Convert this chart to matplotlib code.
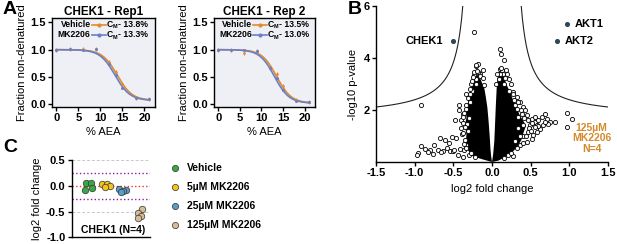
import matplotlib
matplotlib.use("Agg")
import matplotlib.pyplot as plt
import numpy as np

plt.rcParams['font.family'] = ['Liberation Sans', 'DejaVu Sans']
plt.rcParams['font.weight'] = 'bold'
plt.rcParams['font.size'] = 8
plt.rcParams['axes.linewidth'] = 1.0
plt.rcParams['xtick.major.width'] = 1.0
plt.rcParams['ytick.major.width'] = 1.0
plt.rcParams['xtick.major.size'] = 3
plt.rcParams['ytick.major.size'] = 3
plt.rcParams['xtick.major.pad'] = 1.5
plt.rcParams['ytick.major.pad'] = 1.5

# ---- panel A: melt curves ----
aea = [0, 3, 6, 9, 12, 13.5, 15, 18, 21]
rep1_vehicle = [1.0, 1.01, 1.01, 1.01, 0.78, 0.60, 0.38, 0.12, 0.09]
rep1_mk2206 = [1.0, 1.01, 1.0, 1.01, 0.74, 0.53, 0.30, 0.11, 0.09]
rep2_vehicle = [1.0, 1.0, 0.93, 0.98, 0.69, 0.55, 0.33, 0.07, 0.04]
rep2_mk2206 = [1.0, 1.0, 1.0, 0.98, 0.67, 0.49, 0.27, 0.06, 0.04]
# fitted melt parameters (Cm, slope, bottom)
rep1_fit = {'Vehicle': (13.8, 1.7, 0.07), 'MK2206': (13.3, 1.7, 0.07)}
rep2_fit = {'Vehicle': (13.5, 1.7, 0.02), 'MK2206': (13.0, 1.7, 0.02)}

# ---- panel B: volcano ----
hits_x = [-0.51, 0.97, 0.84]
hits_y = [4.65, 5.32, 4.65]
hits_name = ['CHEK1', 'AKT1', 'AKT2']
out_x = [-0.917, -0.96, -0.973, -0.917, -0.861, -0.797, -0.745, -0.702, -0.672, -0.637,
         -0.607, -0.559, -0.543, -0.521, -0.465, -0.50, -0.49, -0.482, -0.422, -0.40,
         -0.43, -0.371, -0.336, -0.443, -0.357, -0.336, -0.388, -0.345, -0.293, -0.207,
         -0.185, -0.236, -0.207, -0.155, -0.12, -0.271, -0.293, -0.258, -0.237, -0.207,
         -0.185, -0.25, -0.207, -0.66, -0.58, -0.76, -0.83, -0.40, -0.37, -0.42,
         -0.38, -0.31, -0.30, -0.29, -0.32, -0.28,
         -0.36, -0.37, -0.35, -0.36, -0.34, -0.31, -0.29, -0.26, -0.23, -0.19,
         -0.16, -0.12, -0.10, -0.27, -0.22, -0.33, -0.38, -0.33,
         0.108, 0.116, 0.159, 0.103, 0.13, 0.18, 0.20, 0.094, 0.159, 0.112,
         0.146, 0.103, 0.275, 0.319, 0.362, 0.405, 0.426, 0.448, 0.513, 0.556,
         0.598, 0.642, 0.685, 0.707, 0.749, 0.814, 0.663, 0.62, 0.578, 0.534,
         0.469, 0.513, 0.448, 0.405, 0.362, 0.211, 0.275, 0.973, 1.03, 0.973,
         0.405, 0.34, 0.319, 0.384, 0.578, 0.60, 0.491, 0.556, 0.72, 0.68,
         0.25, 0.22, 0.28, 0.30, 0.34, 0.36, 0.30,
         0.05, 0.06, 0.17, 0.22, 0.27, 0.33, 0.37, 0.42, 0.46, 0.48,
         0.44, 0.40, 0.32, 0.25, 0.15, 0.52, 0.55, 0.50]
out_y = [2.21, 0.36, 0.28, 0.60, 0.51, 0.48, 0.64, 0.48, 0.92, 0.42,
         0.83, 0.75, 0.42, 0.96, 0.94, 0.42, 0.45, 1.63, 2.18, 1.60,
         1.99, 1.86, 2.05, 0.26, 0.45, 0.64, 1.07, 0.83, 0.26, 3.68,
         3.76, 3.33, 3.21, 3.40, 3.53, 2.99, 2.57, 2.73, 5.0, 3.72,
         3.46, 3.27, 3.01, 0.40, 0.55, 0.30, 0.38, 1.30, 1.50, 0.50,
         0.20, 1.20, 1.70, 2.30, 1.45, 2.60,
         0.70, 1.10, 1.35, 1.90, 2.20, 2.45, 2.80, 3.10, 3.45, 3.50,
         3.30, 3.25, 2.95, 0.35, 0.20, 0.55, 1.75, 2.60,
         4.36, 4.17, 3.91, 3.59, 3.55, 3.53, 3.40, 3.21, 3.01, 3.63,
         3.40, 3.40, 2.69, 2.50, 2.31, 2.12, 1.99, 1.80, 1.67, 1.54,
         1.60, 1.73, 1.86, 1.67, 1.54, 1.54, 1.41, 1.28, 1.15, 1.03,
         1.15, 0.87, 0.77, 0.99, 0.64, 0.26, 0.22, 1.89, 1.67, 1.35,
         1.41, 1.73, 2.05, 1.86, 1.41, 1.38, 1.41, 1.73, 1.45, 1.55,
         3.00, 3.20, 2.40, 2.20, 1.30, 1.00, 0.80,
         3.00, 3.40, 3.25, 2.75, 2.60, 2.30, 2.00, 1.70, 1.60, 1.30,
         1.00, 0.75, 0.55, 0.35, 0.15, 1.50, 1.35, 1.20]
# outline of the dense core of the cloud
core_left_x = [0.0, -0.12, -0.25, -0.31, -0.34, -0.33, -0.35, -0.33, -0.34, -0.31,
               -0.30, -0.27, -0.25, -0.22, -0.18, -0.15, -0.13, -0.10, -0.08, -0.06,
               -0.045, -0.03, -0.02, -0.01]
core_left_y = [0.0, 0.1, 0.22, 0.45, 0.75, 1.05, 1.4, 1.7, 2.0, 2.3,
               2.5, 2.85, 3.05, 3.3, 3.35, 3.2, 3.05, 2.85, 2.5, 2.1,
               1.6, 1.0, 0.5, 0.2]
core_right_x = [0.0, 0.015, 0.03, 0.04, 0.05, 0.06, 0.07, 0.09, 0.12, 0.15,
                0.16, 0.20, 0.24, 0.27, 0.32, 0.35, 0.40, 0.44, 0.41, 0.38,
                0.33, 0.27, 0.18, 0.08]
core_right_y = [0.0, 0.3, 0.8, 1.5, 2.2, 2.8, 3.2, 3.5, 3.55, 3.4,
                3.2, 2.9, 2.65, 2.4, 2.15, 1.85, 1.6, 1.4, 1.15, 0.85,
                0.6, 0.4, 0.2, 0.05]
# threshold curve y = y0 + c / (|x| - x0)
thr_y0, thr_c, thr_x0 = 1.7, 0.515, 0.258

# ---- panel C ----
groups = ['Vehicle', '5µM MK2206', '25µM MK2206', '125µM MK2206']
group_colors = ['#36a845', '#f4c31c', '#5a9cc8', '#d6bd98']
c_vals = [[0.06, 0.06, -0.09, -0.05],
          [0.04, 0.03, 0.0, -0.02],
          [-0.06, -0.08, -0.11, -0.12],
          [-0.46, -0.52, -0.58, -0.63]]
c_jitter = [[-0.15, 0.15, -0.2, 0.2],
            [-0.2, 0.1, 0.25, -0.05],
            [-0.2, 0.2, 0.0, -0.1],
            [0.12, -0.08, 0.1, -0.12]]

W, H = 617, 244
fig = plt.figure(figsize=(W / 100, H / 100), dpi=100)


def px_axes(l, t, r, b):
    return fig.add_axes([l / W, 1 - b / H, (r - l) / W, (b - t) / H])


def melt(x, cm, s, bot):
    return bot + (1 - bot) / (1 + np.exp((x - cm) / s))


orange, blue = '#e38a2b', '#6a7fc6'
for (l, r), title, veh, mk, fit, in [((52, 155), 'CHEK1 - Rep1', rep1_vehicle, rep1_mk2206, rep1_fit),
                                    ((214, 315), 'CHEK1 - Rep 2', rep2_vehicle, rep2_mk2206, rep2_fit)]:
    ax = px_axes(l, 18, r, 107)
    ax.set_facecolor('#eef0f5')
    xs = np.linspace(0, 21, 200)
    ax.plot(xs, melt(xs, *fit['Vehicle']), color=orange, lw=1.2)
    ax.plot(xs, melt(xs, *fit['MK2206']), color=blue, lw=1.2)
    ax.plot(aea, veh, 'd', color=orange, ms=2.5, mew=0)
    ax.plot(aea, mk, 'o', color=blue, ms=2.2, mew=0)
    ax.set_xlim(-1, 22.4)
    ax.set_ylim(-0.05, 1.58)
    ax.set_xticks([0, 5, 10, 15, 20])
    ax.set_yticks([0, 0.5, 1.0, 1.5])
    ax.set_yticklabels(['0.0', '0.5', '1.0', '1.5'])
    ax.set_title(title, fontsize=8.5, fontweight='bold', pad=2)
    ax.set_xlabel('% AEA', labelpad=3)
    ax.set_ylabel('Fraction non-denatured', labelpad=2)
    for row, (lab, col, key) in enumerate([('Vehicle', orange, 'Vehicle'), ('MK2206', blue, 'MK2206')]):
        yy = 0.925 - row * 0.115
        ax.text(0.375, yy, lab, transform=ax.transAxes, ha='right', va='center', fontsize=6.2)
        ax.plot([0.385, 0.52], [yy, yy], color=col, lw=1.2, transform=ax.transAxes)
        ax.plot([0.452], [yy], 'o', color=col, ms=2, transform=ax.transAxes)
        ax.text(0.53, yy, 'C', transform=ax.transAxes, ha='left', va='center', fontsize=6.2)
        ax.text(0.59, yy - 0.025, 'M', transform=ax.transAxes, ha='left', va='center', fontsize=4)
        ax.text(0.645, yy, '- %.1f%%' % fit[key][0], transform=ax.transAxes,
                ha='left', va='center', fontsize=6.2)

fig.text(10 / W, 1 - 10 / H, 'A', fontsize=14, fontweight='bold', ha='center', va='center')
fig.text(355 / W, 1 - 10 / H, 'B', fontsize=14, fontweight='bold', ha='center', va='center')
fig.text(10 / W, 1 - 148 / H, 'C', fontsize=14, fontweight='bold', ha='center', va='center')

# ---- B ----
axb = px_axes(376, 6, 608, 162)
axb.fill(core_left_x, core_left_y, color='black', lw=0, zorder=1)
axb.fill(core_right_x, core_right_y, color='black', lw=0, zorder=1)
axb.scatter(out_x, out_y, s=9, facecolors='white', edgecolors='black', linewidths=0.6, zorder=2)
for side in (-1, 1):
    ax_abs = np.linspace(0.375, 1.5, 200)
    axb.plot(side * ax_abs, thr_y0 + thr_c / (ax_abs - thr_x0), color='#222222', lw=0.8)
axb.scatter(hits_x, hits_y, s=7, color='#2d4758', zorder=3)
axb.text(hits_x[0] - 0.12, hits_y[0], hits_name[0], ha='right', va='center', fontsize=8)
axb.text(hits_x[1] + 0.1, hits_y[1], hits_name[1], ha='left', va='center', fontsize=8)
axb.text(hits_x[2] + 0.1, hits_y[2], hits_name[2], ha='left', va='center', fontsize=8)
axb.text(1.29, 0.91, '125µM\nMK2206\nN=4', color='#d4892a', ha='center', va='center',
         fontsize=7.5, linespacing=1.1)
axb.set_xlim(-1.5, 1.5)
axb.set_ylim(0, 6)
axb.set_xticks([-1.5, -1.0, -0.5, 0, 0.5, 1.0, 1.5])
axb.set_xticklabels(['-1.5', '-1.0', '-0.5', '0.0', '0.5', '1.0', '1.5'])
axb.set_yticks([2, 4, 6])
axb.spines['top'].set_visible(False)
axb.spines['right'].set_visible(False)
axb.set_xlabel('log2 fold change', labelpad=4)
axb.set_ylabel('-log10 p-value', labelpad=4)

# ---- C ----
axc = px_axes(71.7, 160, 150, 237.3)
axc.axhline(0.5, color='#c8c8c8', ls=(0, (3, 2)), lw=0.7)
axc.axhline(-0.5, color='#c8c8c8', ls=(0, (3, 2)), lw=0.7)
axc.axhline(0.25, color='#8e1c9c', ls=':', lw=1.0)
axc.axhline(-0.25, color='#8e1c9c', ls=':', lw=1.0)
axc.axhline(0.0, color='#e53a2c', ls=':', lw=1.0)
for i, (vals, jit, col) in enumerate(zip(c_vals, c_jitter, group_colors)):
    axc.scatter([i + 1 + j for j in jit], vals, s=22, color=col, edgecolors='#333333',
                linewidths=0.5, zorder=3)
axc.text(2.45, -0.86, 'CHEK1 (N=4)', ha='center', va='center', fontsize=7.5)
axc.set_xlim(0, 4.6)
axc.set_ylim(-1.0, 0.5)
axc.set_xticks([])
axc.set_yticks([0.5, 0.0, -0.5, -1.0])
axc.set_yticklabels(['0.5', '0.0', '-0.5', '-1.0'])
axc.spines['top'].set_visible(False)
axc.spines['right'].set_visible(False)
axc.set_ylabel('log2 fold change', labelpad=3)

for k, (g, col) in enumerate(zip(groups, group_colors)):
    yy = 1 - (168 + k * 19) / H
    fig.add_artist(plt.Line2D([175 / W], [yy], marker='o', ms=4.5, color=col,
                              markeredgecolor='#333333', mew=0.5, transform=fig.transFigure))
    fig.text(187 / W, yy, g, ha='left', va='center', fontsize=7.5)

fig.savefig('out.png', dpi=100)
